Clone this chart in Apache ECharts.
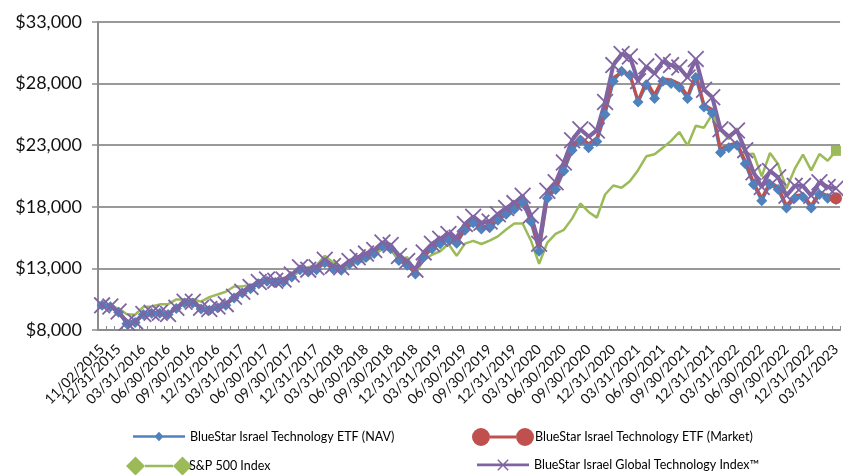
<!DOCTYPE html>
<html>
<head>
<meta charset="utf-8">
<script src="https://cdn.jsdelivr.net/npm/echarts@6/dist/echarts.min.js"></script>
<style>
html,body{margin:0;padding:0;background:#fff;}
#chart{width:843px;height:475px;}
</style>
</head>
<body>
<div id="chart"></div>
<script>
const categories = [
"11/02/2015","11/30/2015","12/31/2015",
"01/31/2016","02/29/2016","03/31/2016","04/30/2016","05/31/2016","06/30/2016","07/31/2016","08/31/2016","09/30/2016","10/31/2016","11/30/2016","12/31/2016",
"01/31/2017","02/28/2017","03/31/2017","04/30/2017","05/31/2017","06/30/2017","07/31/2017","08/31/2017","09/30/2017","10/31/2017","11/30/2017","12/31/2017",
"01/31/2018","02/28/2018","03/31/2018","04/30/2018","05/31/2018","06/30/2018","07/31/2018","08/31/2018","09/30/2018","10/31/2018","11/30/2018","12/31/2018",
"01/31/2019","02/28/2019","03/31/2019","04/30/2019","05/31/2019","06/30/2019","07/31/2019","08/31/2019","09/30/2019","10/31/2019","11/30/2019","12/31/2019",
"01/31/2020","02/29/2020","03/31/2020","04/30/2020","05/31/2020","06/30/2020","07/31/2020","08/31/2020","09/30/2020","10/31/2020","11/30/2020","12/31/2020",
"01/31/2021","02/28/2021","03/31/2021","04/30/2021","05/31/2021","06/30/2021","07/31/2021","08/31/2021","09/30/2021","10/31/2021","11/30/2021","12/31/2021",
"01/31/2022","02/28/2022","03/31/2022","04/30/2022","05/31/2022","06/30/2022","07/31/2022","08/31/2022","09/30/2022","10/31/2022","11/30/2022","12/31/2022",
"01/31/2023","02/28/2023","03/31/2023"
];

const seriesNames = [
"BlueStar Israel Technology ETF (NAV)",
"BlueStar Israel Technology ETF (Market)",
"S&P 500 Index",
"BlueStar Israel Global Technology Index\u2122"
];

const navValues = [
10000,9880,9450,8500,8600,9250,9350,9350,9250,9750,10200,10200,9700,9600,9800,
10000,10600,11000,11350,11750,11950,11850,11900,12300,12900,12700,12900,
13450,12950,12850,13350,13650,13900,14200,14800,14600,13650,13250,12550,
13900,14600,15000,15350,15050,16100,16700,16200,16300,16900,17400,17800,
18350,16800,14400,18700,19400,20900,22600,23400,22800,23300,25500,28200,
29000,28700,26500,27900,26800,28200,28000,27700,26800,28500,26100,25600,
22400,22800,23000,21500,19800,18500,19800,19400,17900,18700,18800,17900,
19000,18700,18600
];

const marketValues = [
10000,9900,9450,8550,8600,9300,9350,9400,9250,9800,10200,10250,9700,9650,9800,
10050,10600,11050,11400,11800,12000,11900,11950,12350,12950,12750,12950,
13500,13000,12900,13400,13700,13950,14250,14900,14700,13750,13350,12650,
14000,14700,15100,15450,15150,16250,16850,16350,16450,17050,17550,17950,
18550,16950,14600,18900,19600,21100,22900,23700,23100,23600,25900,28500,
28900,28800,26600,28200,27100,28400,28300,28000,27000,28800,26300,25900,
22700,23000,23200,21700,20000,18700,20000,19600,18100,18900,19000,18100,
19200,18900,18700
];

const sp500Values = [
10000,9900,9750,9270,9240,9870,9910,10080,10100,10480,10480,10490,10300,10670,10880,
11100,11530,11540,11660,11820,11890,12140,12170,12420,12720,13100,13250,
14020,13490,13150,13210,13510,13600,14110,14570,14650,13660,13920,12670,
13690,14110,14390,14980,14020,15010,15230,14980,15260,15600,16160,16650,
16650,15270,13380,15100,15810,16130,17040,18270,17580,17120,19000,19730,
19540,20080,20970,22100,22260,22800,23350,24070,22960,24580,24420,25520,
24220,23500,24380,22270,22310,20470,22370,21450,19480,21070,22240,20960,
22290,21740,22540
];

const indexValues = [
10000,9900,9500,8600,8700,9300,9400,9400,9300,9800,10300,10300,9800,9700,9900,
10100,10700,11100,11500,11900,12100,12000,12100,12500,13100,12900,13100,
13700,13200,13100,13600,13900,14200,14500,15100,14900,14000,13600,12900,
14300,15000,15400,15800,15500,16600,17200,16700,16800,17400,17900,18300,
18900,17300,15000,19300,20000,21600,23400,24300,23700,24200,26500,29500,
30400,30200,28200,29400,28800,29800,29500,29300,28500,30000,27500,26900,
24300,23700,24200,22600,20800,19600,20900,20400,18900,19700,19700,18900,
20000,19600,19500
];

const yMin = 8000, yMax = 33000, yStep = 5000;

const FONT = 'Lato';
const X_PATH = 'path://M0,1.5L1.5,0L10,8.5L18.5,0L20,1.5L11.5,10L20,18.5L18.5,20L10,11.5L1.5,20L0,18.5L8.5,10Z';

const last = categories.length - 1;

function isLabelShown(idx) { return idx === 0 || (idx - 2) % 3 === 0; }

const chart = echarts.init(document.getElementById('chart'), null, {renderer: 'canvas'});

function legendAt(name, icon, w, h, left, top, textPad) {
  return {
    data: [name], icon: icon, itemWidth: w, itemHeight: h,
    left: left, top: top, padding: 0, selectedMode: false,
    textStyle: {fontFamily: FONT, fontSize: 12.5, color: '#000', padding: textPad || 0}
  };
}

const option = {
  animation: false,
  backgroundColor: '#fff',
  grid: {left: 98, right: 0, top: 22, bottom: 145, containLabel: false},
  legend: [
    legendAt(seriesNames[0], 'path://M0,4H52V6.6H0Z M26,0.5L30.5,5.3L26,10L21.5,5.3Z', 52, 10, 133, 430),
    legendAt(seriesNames[1], 'path://M0,9a9,9 0 1,0 18,0a9,9 0 1,0 -18,0Z M44,9a9,9 0 1,0 18,0a9,9 0 1,0 -18,0Z M18,7.6H44V10.4H18Z', 62, 18, 472, 428, [0,0,0,-4]),
    legendAt(seriesNames[2], 'path://M0,9.5L9.5,0L19,9.5L9.5,19Z M47,9.5L56.5,0L66,9.5L56.5,19Z M19,8.2H47V10.8H19Z', 66, 19, 126, 456.5, [0,0,0,-8]),
    legendAt(seriesNames[3], 'path://M0,4.6H52V7.4H0Z M21.3,0.4L31.7,10.8L30.7,11.8L20.3,1.4Z M30.7,0.4L31.7,1.4L21.3,11.8L20.3,10.8Z', 52, 12, 477, 458.5)
  ],
  xAxis: {
    type: 'category',
    data: categories,
    boundaryGap: true,
    axisLine: {lineStyle: {color: '#8c8c8c', width: 2}},
    axisTick: {show: true, inside: true, length: 4, interval: 0, lineStyle: {color: '#8c8c8c', width: 1}},
    axisLabel: {
      rotate: 45, margin: 17, fontFamily: FONT, fontSize: 14, color: '#111',
      hideOverlap: false, interval: 0,
      formatter: function (val, idx) { return isLabelShown(idx) ? val : ''; }
    },
    splitLine: {show: false}
  },
  yAxis: {
    type: 'value', min: yMin, max: yMax, interval: yStep,
    axisLine: {show: true, lineStyle: {color: '#8c8c8c', width: 2}},
    axisTick: {show: true, length: 6, lineStyle: {color: '#8c8c8c', width: 1.5}},
    axisLabel: {
      margin: 16, fontFamily: FONT, fontSize: 18, color: '#111',
      formatter: function (v) { return '$' + v.toLocaleString('en-US'); }
    },
    splitLine: {show: true, lineStyle: {color: '#999', width: 2}}
  },
  series: [
    {
      name: seriesNames[0], type: 'line', data: navValues,
      color: '#4F81BD', symbol: 'diamond', symbolSize: 11, showSymbol: true, showAllSymbol: true,
      lineStyle: {width: 3, color: '#4F81BD'}, itemStyle: {color: '#4F81BD'}, emphasis: {disabled: true}
    },
    {
      name: seriesNames[1], type: 'line',
      data: marketValues.map(function (v, i) { return i === last ? {value: v, symbol: 'circle', symbolSize: 12} : {value: v, symbol: 'none'}; }),
      color: '#C0504D', symbol: 'none', showSymbol: true, showAllSymbol: true,
      lineStyle: {width: 3, color: '#C0504D'}, itemStyle: {color: '#C0504D'}, emphasis: {disabled: true}
    },
    {
      name: seriesNames[2], type: 'line',
      data: sp500Values.map(function (v, i) { return i === last ? {value: v, symbol: 'rect', symbolSize: 10} : {value: v, symbol: 'none'}; }),
      color: '#9BBB59', symbol: 'none', showSymbol: true, showAllSymbol: true,
      lineStyle: {width: 2.5, color: '#9BBB59'}, itemStyle: {color: '#9BBB59'}, emphasis: {disabled: true}
    },
    {
      name: seriesNames[3], type: 'line', data: indexValues,
      color: '#8064A2', symbol: X_PATH, symbolSize: 17, showSymbol: true, showAllSymbol: true,
      lineStyle: {width: 4, color: '#8064A2'}, itemStyle: {color: '#8064A2'}, emphasis: {disabled: true}
    }
  ]
};
chart.setOption(option);
</script>
</body>
</html>
